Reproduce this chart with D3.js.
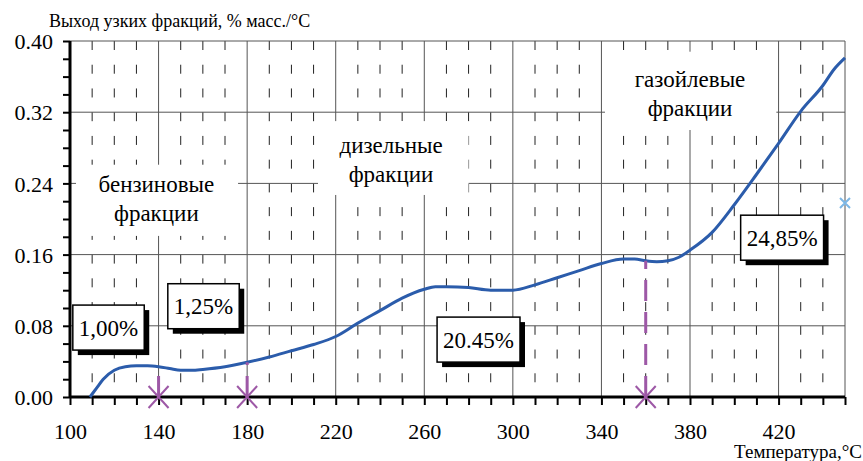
<!DOCTYPE html>
<html>
<head>
<meta charset="utf-8">
<script src="https://d3js.org/d3.v7.min.js"></script>
</head>
<body style="margin:0;background:#fff">
<script>
// curve: temperature (°C) and yield (% mass/°C)
var temps = [109, 112, 115, 120, 125, 130, 135, 140, 145, 150, 155, 160, 170, 180, 190, 200,
  210, 220, 230, 240, 250, 260, 265, 270, 280, 290, 300, 310, 320, 330, 340, 350, 355,
  360, 365, 370, 375, 380, 390, 400, 410, 420, 430, 440, 445, 450];
var yields = [0.000, 0.010, 0.020, 0.030, 0.034, 0.035, 0.035, 0.034, 0.032, 0.030, 0.030, 0.031,
  0.034, 0.039, 0.045, 0.052, 0.059, 0.068, 0.083, 0.097, 0.111, 0.121, 0.124, 0.124, 0.123,
  0.120, 0.120, 0.126, 0.134, 0.142, 0.150, 0.155, 0.155, 0.153, 0.152, 0.153, 0.157, 0.165,
  0.185, 0.216, 0.250, 0.285, 0.321, 0.350, 0.368, 0.381];

// cut points between fractions
var cutTemps = [140, 180, 360];
var cutYields = [0.034, 0.039, 0.153];

// lone point on the right edge
var extraPoint = [450, 0.218];

var xTicks = [100, 140, 180, 220, 260, 300, 340, 380, 420];
var yTicks = [0.00, 0.08, 0.16, 0.24, 0.32, 0.40];

// boxed percentages: text, centre temperature, centre yield
var boxTexts = ["1,00%", "1,25%", "20.45%", "24,85%"];
var boxT = [117.4, 160.3, 284.5, 421.6];
var boxV = [0.078, 0.102, 0.0645, 0.179];

// region names and their white backdrops (temperature / yield extents)
var regionLines = [["бензиновые", "фракции"], ["дизельные", "фракции"], ["газойлевые", "фракции"]];
var regionT = [139, 245, 380];
var regionV = [0.230, 0.274, 0.348];
var regionBgT = [[102.7, 175.9], [212, 280], [341.6, 419]];
var regionBgV = [[0.261, 0.181], [0.310, 0.227], [0.388, 0.300]];

var FONT = "'Liberation Serif'";
var W = 863, H = 461;
var svg = d3.select("body").append("svg")
  .attr("width", W).attr("height", H);

var x = d3.scaleLinear().domain([100, 450]).range([70, 845]);
var y = d3.scaleLinear().domain([0, 0.40]).range([397, 41]);

var blue = "#2b5cab", purple = "#9d58a6";

// minor vertical dashed lines every 10 degrees
var step = (y(0) - y(0.08)) / 3;
var minor = d3.range(110, 450, 10).filter(function (d) { return (d - 100) % 40 != 0; });
svg.append("g").selectAll("line").data(minor).enter().append("line")
  .attr("x1", function (d) { return x(d); }).attr("x2", function (d) { return x(d); })
  .attr("y1", y(0.40)).attr("y2", y(0))
  .attr("stroke", "#222").attr("stroke-width", 1)
  .attr("stroke-dasharray", "9," + (step - 9));

// major vertical lines + right border
svg.append("g").selectAll("line").data(xTicks.slice(1).concat([450])).enter().append("line")
  .attr("x1", function (d) { return x(d); }).attr("x2", function (d) { return x(d); })
  .attr("y1", y(0.40)).attr("y2", y(0))
  .attr("stroke", "#555").attr("stroke-width", 1);

// horizontal lines
svg.append("g").selectAll("line").data(yTicks.slice(1)).enter().append("line")
  .attr("x1", x(100)).attr("x2", x(450))
  .attr("y1", function (d) { return y(d); }).attr("y2", function (d) { return y(d); })
  .attr("stroke", "#555").attr("stroke-width", 1);

// white backdrops for region labels
svg.append("g").selectAll("rect").data(regionBgT).enter().append("rect")
  .attr("x", function (d) { return x(d[0]); })
  .attr("width", function (d) { return x(d[1]) - x(d[0]); })
  .attr("y", function (d, i) { return y(regionBgV[i][0]); })
  .attr("height", function (d, i) { return y(regionBgV[i][1]) - y(regionBgV[i][0]); })
  .attr("fill", "#fff");

regionLines.forEach(function (lines, i) {
  var t = svg.append("text")
    .attr("x", x(regionT[i])).attr("y", y(regionV[i]))
    .attr("text-anchor", "middle")
    .style("font-family", FONT).style("font-size", "23px");
  lines.forEach(function (s, j) {
    t.append("tspan").attr("x", x(regionT[i])).attr("dy", j == 0 ? 0 : 29).text(s);
  });
});

// axes
var xAxis = d3.axisBottom(x).tickValues(d3.range(100, 451, 10))
  .tickSize(8).tickFormat(function (d) { return xTicks.indexOf(d) >= 0 ? d : ""; });
var gx = svg.append("g").attr("transform", "translate(0," + y(0) + ")").call(xAxis);
gx.attr("font-family", FONT);
gx.select(".domain").remove();
gx.selectAll("line").attr("stroke", "#000").attr("stroke-width", 2);
gx.selectAll("text").attr("dy", "0").attr("y", 42)
  .style("font-family", FONT).style("font-size", "22px").style("fill", "#000");

var yAxis = d3.axisLeft(y).tickValues(d3.range(0, 0.401, 0.02))
  .tickSize(7).tickFormat(function (d) {
    var m = yTicks.find(function (v) { return Math.abs(v - d) < 1e-6; });
    return m !== undefined ? d3.format(".2f")(d) : "";
  });
var gy = svg.append("g").attr("transform", "translate(" + x(100) + ",0)").call(yAxis);
gy.attr("font-family", FONT);
gy.select(".domain").remove();
gy.selectAll("line").attr("stroke", "#000").attr("stroke-width", 2);
gy.selectAll("text").attr("x", -17).attr("dy", "0.35em")
  .style("font-family", FONT).style("font-size", "22px").style("fill", "#000");

svg.append("line").attr("x1", x(100)).attr("x2", x(450))
  .attr("y1", y(0)).attr("y2", y(0)).attr("stroke", "#000").attr("stroke-width", 3);
svg.append("line").attr("x1", x(100)).attr("x2", x(100))
  .attr("y1", y(0.40)).attr("y2", y(0)).attr("stroke", "#000").attr("stroke-width", 3);

// curve
var pts = temps.map(function (t, i) { return [t, yields[i]]; });
svg.append("path").datum(pts)
  .attr("fill", "none").attr("stroke", blue).attr("stroke-width", 3)
  .attr("stroke-linejoin", "round")
  .attr("d", d3.line().curve(d3.curveMonotoneX)
    .x(function (d) { return x(d[0]); }).y(function (d) { return y(d[1]); }));

// cut markers
cutTemps.forEach(function (t, i) {
  svg.append("line").attr("x1", x(t)).attr("x2", x(t))
    .attr("y1", y(0)).attr("y2", y(cutYields[i]))
    .attr("stroke", purple).attr("stroke-width", 3).attr("stroke-dasharray", "21,11");
  var g = svg.append("g").attr("transform", "translate(" + x(t) + "," + y(0) + ")")
    .attr("stroke", purple).attr("stroke-width", 2);
  g.append("line").attr("x1", -10).attr("y1", -11).attr("x2", 10).attr("y2", 11);
  g.append("line").attr("x1", -10).attr("y1", 11).attr("x2", 10).attr("y2", -11);
});

// extra point
svg.append("path")
  .attr("transform", "translate(" + x(extraPoint[0]) + "," + y(extraPoint[1]) + ")")
  .attr("d", "M-5,-5L5,5M-5,5L5,-5")
  .attr("stroke", "#7cb7e6").attr("stroke-width", 2);

// boxed labels with shadow
boxTexts.forEach(function (s, i) {
  var g = svg.append("g").attr("transform", "translate(" + x(boxT[i]) + "," + y(boxV[i]) + ")");
  var shadow = g.append("rect").attr("fill", "#000");
  var box = g.append("rect").attr("fill", "#fff").attr("stroke", "#000").attr("stroke-width", 1.5);
  var t = g.append("text").attr("text-anchor", "middle").attr("dy", "0.35em")
    .style("font-family", FONT).style("font-size", "23px").text(s);
  var w = t.node().getComputedTextLength() + 12, h = 45;
  box.attr("x", -w / 2).attr("y", -h / 2).attr("width", w).attr("height", h);
  shadow.attr("x", -w / 2 + 5).attr("y", -h / 2 + 5).attr("width", w).attr("height", h);
});

// titles
svg.append("text").attr("x", 49).attr("y", 27)
  .style("font-family", FONT).style("font-size", "18px")
  .text("Выход узких фракций, % масс./°С");
svg.append("text").attr("x", 862).attr("y", 458).attr("text-anchor", "end")
  .style("font-family", FONT).style("font-size", "19px")
  .text("Температура,°С");
</script>
</body>
</html>
